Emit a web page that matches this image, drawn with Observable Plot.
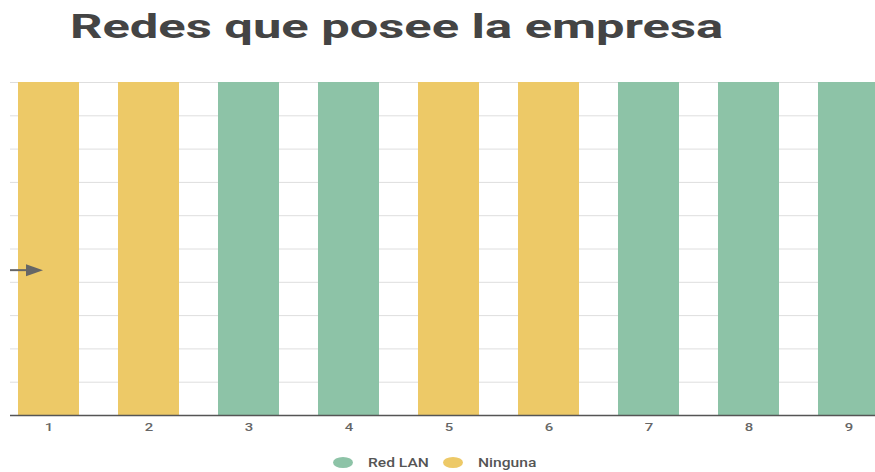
<!DOCTYPE html>
<html>
<head>
<meta charset="utf-8">
<script src="https://cdn.jsdelivr.net/npm/d3@7"></script>
<script src="https://cdn.jsdelivr.net/npm/@observablehq/plot@0.6"></script>
<style>
  html, body { margin: 0; padding: 0; background: #fff; overflow: hidden; }
  body { width: 875px; height: 472px; font-family: Roboto, "Noto Sans", sans-serif; }
  #title { position: relative; height: 60px; }
  #title span { position: absolute; left: 70px; top: 9px; font-size: 34px; line-height: 34px; font-weight: 700; color: #444; white-space: nowrap; transform-origin: 0 0; transform: scaleX(1.49); }
  #legend { position: relative; height: 20px; }
  .item { position: absolute; top: 0; height: 20px; display: flex; align-items: center; }
  .sw { width: 20px; height: 11px; border-radius: 50%; display: inline-block; flex: none; }
  .lab { font-size: 13px; font-weight: 500; color: #555; margin-left: 15px; transform-origin: 0 50%; transform: scaleX(1.2); white-space: nowrap; }
  svg { display: block; }
</style>
</head>
<body>
<div id="title"><span>Redes que posee la empresa</span></div>
<div id="chart"></div>
<div id="legend"></div>
<script>
const categories = ["1", "2", "3", "4", "5", "6", "7", "8", "9"];
const series = ["Ninguna", "Ninguna", "Red LAN", "Red LAN", "Ninguna", "Ninguna", "Red LAN", "Red LAN", "Red LAN"];
const values = [1, 1, 1, 1, 1, 1, 1, 1, 1];
const yTicks = [0, 0.1, 0.2, 0.3, 0.4, 0.5, 0.6, 0.7, 0.8, 0.9, 1];
const legendNames = ["Red LAN", "Ninguna"];
const legendColors = ["#8DC3A7", "#EDC967"];
const arrowValue = [0.435];

const data = categories.map((c, i) => ({cat: c, series: series[i], value: values[i]}));

const arrowMark = (index, scales, vals, dims) => {
  const g = document.createElementNS("http://www.w3.org/2000/svg", "g");
  const yy = scales.y(arrowValue[0]);
  const x0 = dims.marginLeft;
  const line = document.createElementNS("http://www.w3.org/2000/svg", "line");
  line.setAttribute("x1", x0); line.setAttribute("x2", x0 + 18);
  line.setAttribute("y1", yy); line.setAttribute("y2", yy);
  line.setAttribute("stroke", "#666"); line.setAttribute("stroke-width", 2);
  const tri = document.createElementNS("http://www.w3.org/2000/svg", "path");
  tri.setAttribute("d", `M${x0 + 16},${yy - 6}L${x0 + 33},${yy}L${x0 + 16},${yy + 6}Z`);
  tri.setAttribute("fill", "#666");
  g.appendChild(line); g.appendChild(tri);
  return g;
};

const chart = Plot.plot({
  width: 875,
  height: 392,
  marginTop: 22,
  marginLeft: 10,
  marginRight: 0,
  marginBottom: 37,
  style: {fontFamily: "Roboto, sans-serif", fontSize: "11.5px", color: "#555", overflow: "hidden"},
  x: {domain: categories, range: [10, 886.5], paddingInner: 0.386, paddingOuter: 0.067, label: null},
  y: {domain: [0, 1], axis: null},
  color: {domain: legendNames, range: legendColors},
  marks: [
    Plot.gridY(yTicks, {stroke: "#dedede", strokeOpacity: 1}),
    Plot.barY(data, {x: "cat", y: "value", fill: "series"}),
    Plot.ruleY([0], {stroke: "#555", strokeWidth: 1.5}),
    Plot.axisX({tickSize: 0, tickPadding: 7, fill: "#666", fontSize: 11.5, fontWeight: 500, label: null}),
    arrowMark
  ]
});
chart.querySelectorAll('g[aria-label="x-axis tick label"] text').forEach(t => {
  const tr = t.getAttribute("transform") || "";
  t.setAttribute("transform", tr + " scale(1.3,1)");
});
document.getElementById("chart").appendChild(chart);

const legend = document.getElementById("legend");
const lefts = [333, 443];
legendNames.forEach((n, i) => {
  const it = document.createElement("div");
  it.className = "item";
  it.style.left = lefts[i] + "px";
  it.innerHTML = `<span class="sw" style="background:${legendColors[i]}"></span><span class="lab">${n}</span>`;
  legend.appendChild(it);
});
</script>
</body>
</html>
